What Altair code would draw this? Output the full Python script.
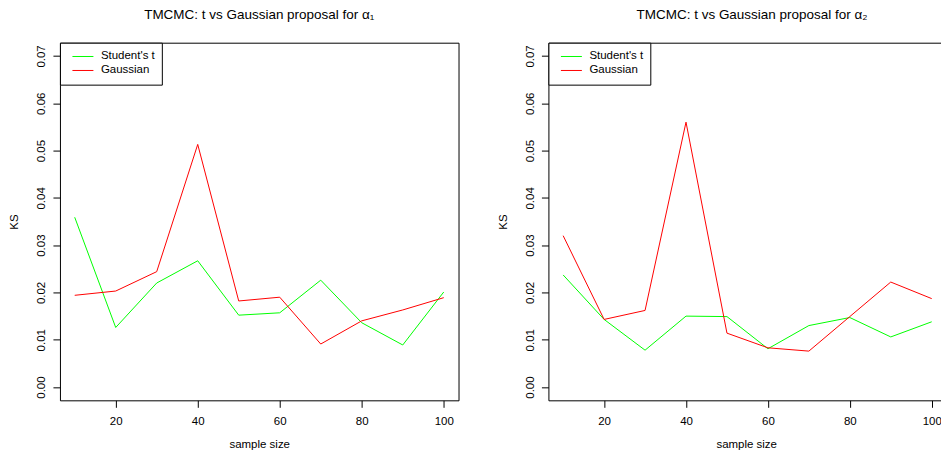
import altair as alt
import pandas as pd

sizes = [10, 20, 30, 40, 50, 60, 70, 80, 90, 100]

t_alpha1 = [0.0359, 0.0126, 0.0220, 0.0267, 0.0152, 0.0157, 0.0226, 0.0136, 0.0089, 0.0201]
g_alpha1 = [0.0194, 0.0203, 0.0244, 0.0513, 0.0182, 0.0190, 0.0091, 0.0140, 0.0163, 0.0189]

t_alpha2 = [0.0237, 0.0143, 0.0078, 0.0150, 0.0149, 0.0081, 0.0130, 0.0147, 0.0106, 0.0138]
g_alpha2 = [0.0320, 0.0143, 0.0162, 0.0560, 0.0114, 0.0083, 0.0076, 0.0149, 0.0222, 0.0187]

series_names = ["Student's t", "Gaussian"]
series_colors = ["#00FF00", "#FF0000"]

x_ticks = [20, 40, 60, 80, 100]
y_ticks = [0.00, 0.01, 0.02, 0.03, 0.04, 0.05, 0.06, 0.07]

titles = ["TMCMC: t vs Gaussian proposal for α₁", "TMCMC: t vs Gaussian proposal for α₂"]

FONT = "Liberation Sans"


def panel(t_vals, g_vals, title, width, x_max, title_dx):
    df = pd.DataFrame({
        "size": sizes + sizes,
        "KS": t_vals + g_vals,
        "series": [series_names[0]] * len(sizes) + [series_names[1]] * len(sizes),
    })
    return alt.Chart(
        df,
        title=alt.Title(title, font=FONT, fontSize=13.5, fontWeight="normal",
                        anchor="middle", frame="group", offset=21, color="black",
                        dx=title_dx),
    ).mark_line(strokeWidth=1).encode(
        x=alt.X("size:Q",
                scale=alt.Scale(domain=[6.4, x_max], nice=False, zero=False),
                axis=alt.Axis(values=x_ticks, title="sample size", format="d",
                              labelPadding=8, titlePadding=12)),
        y=alt.Y("KS:Q",
                scale=alt.Scale(domain=[-0.0028, 0.0728], nice=False, zero=False),
                axis=alt.Axis(values=y_ticks, title="KS", format=".2f",
                              labelAngle=-90, labelAlign="center", labelBaseline="bottom",
                              labelPadding=6, titlePadding=16)),
        color=alt.Color("series:N",
                        scale=alt.Scale(domain=series_names, range=series_colors),
                        legend=alt.Legend(orient="top-left", offset=0, title=None,
                                          strokeColor="black", fillColor="white",
                                          padding=7, cornerRadius=0,
                                          symbolType="stroke", symbolSize=441,
                                          symbolStrokeWidth=1, symbolOffset=5,
                                          labelOffset=7, labelFont=FONT,
                                          labelFontSize=11.5, labelColor="black",
                                          clipHeight=13.6, rowPadding=0)),
        order=alt.Order("size:Q"),
    ).properties(width=width, height=358)


left = panel(t_alpha1, g_alpha1, titles[0], 399, 103.6, 0)
right = panel(t_alpha2, g_alpha2, titles[1], 396, 103.0, 5.8)

chart = alt.hconcat(left, right, spacing=37).resolve_scale(
    color="independent"
).resolve_legend(color="independent").configure_view(
    stroke="black", strokeWidth=1
).configure_axis(
    labelFont=FONT, titleFont=FONT, labelFontSize=11.5, titleFontSize=11.5,
    labelColor="black", titleColor="black", titleFontWeight="normal",
    tickColor="black", tickSize=7, tickWidth=1, domain=False, grid=False,
).properties(
    background="white",
    padding={"left": 0, "top": -1.5, "right": -4, "bottom": 0},
)

chart.save("out.html", embed_options={"renderer": "svg", "actions": False})
